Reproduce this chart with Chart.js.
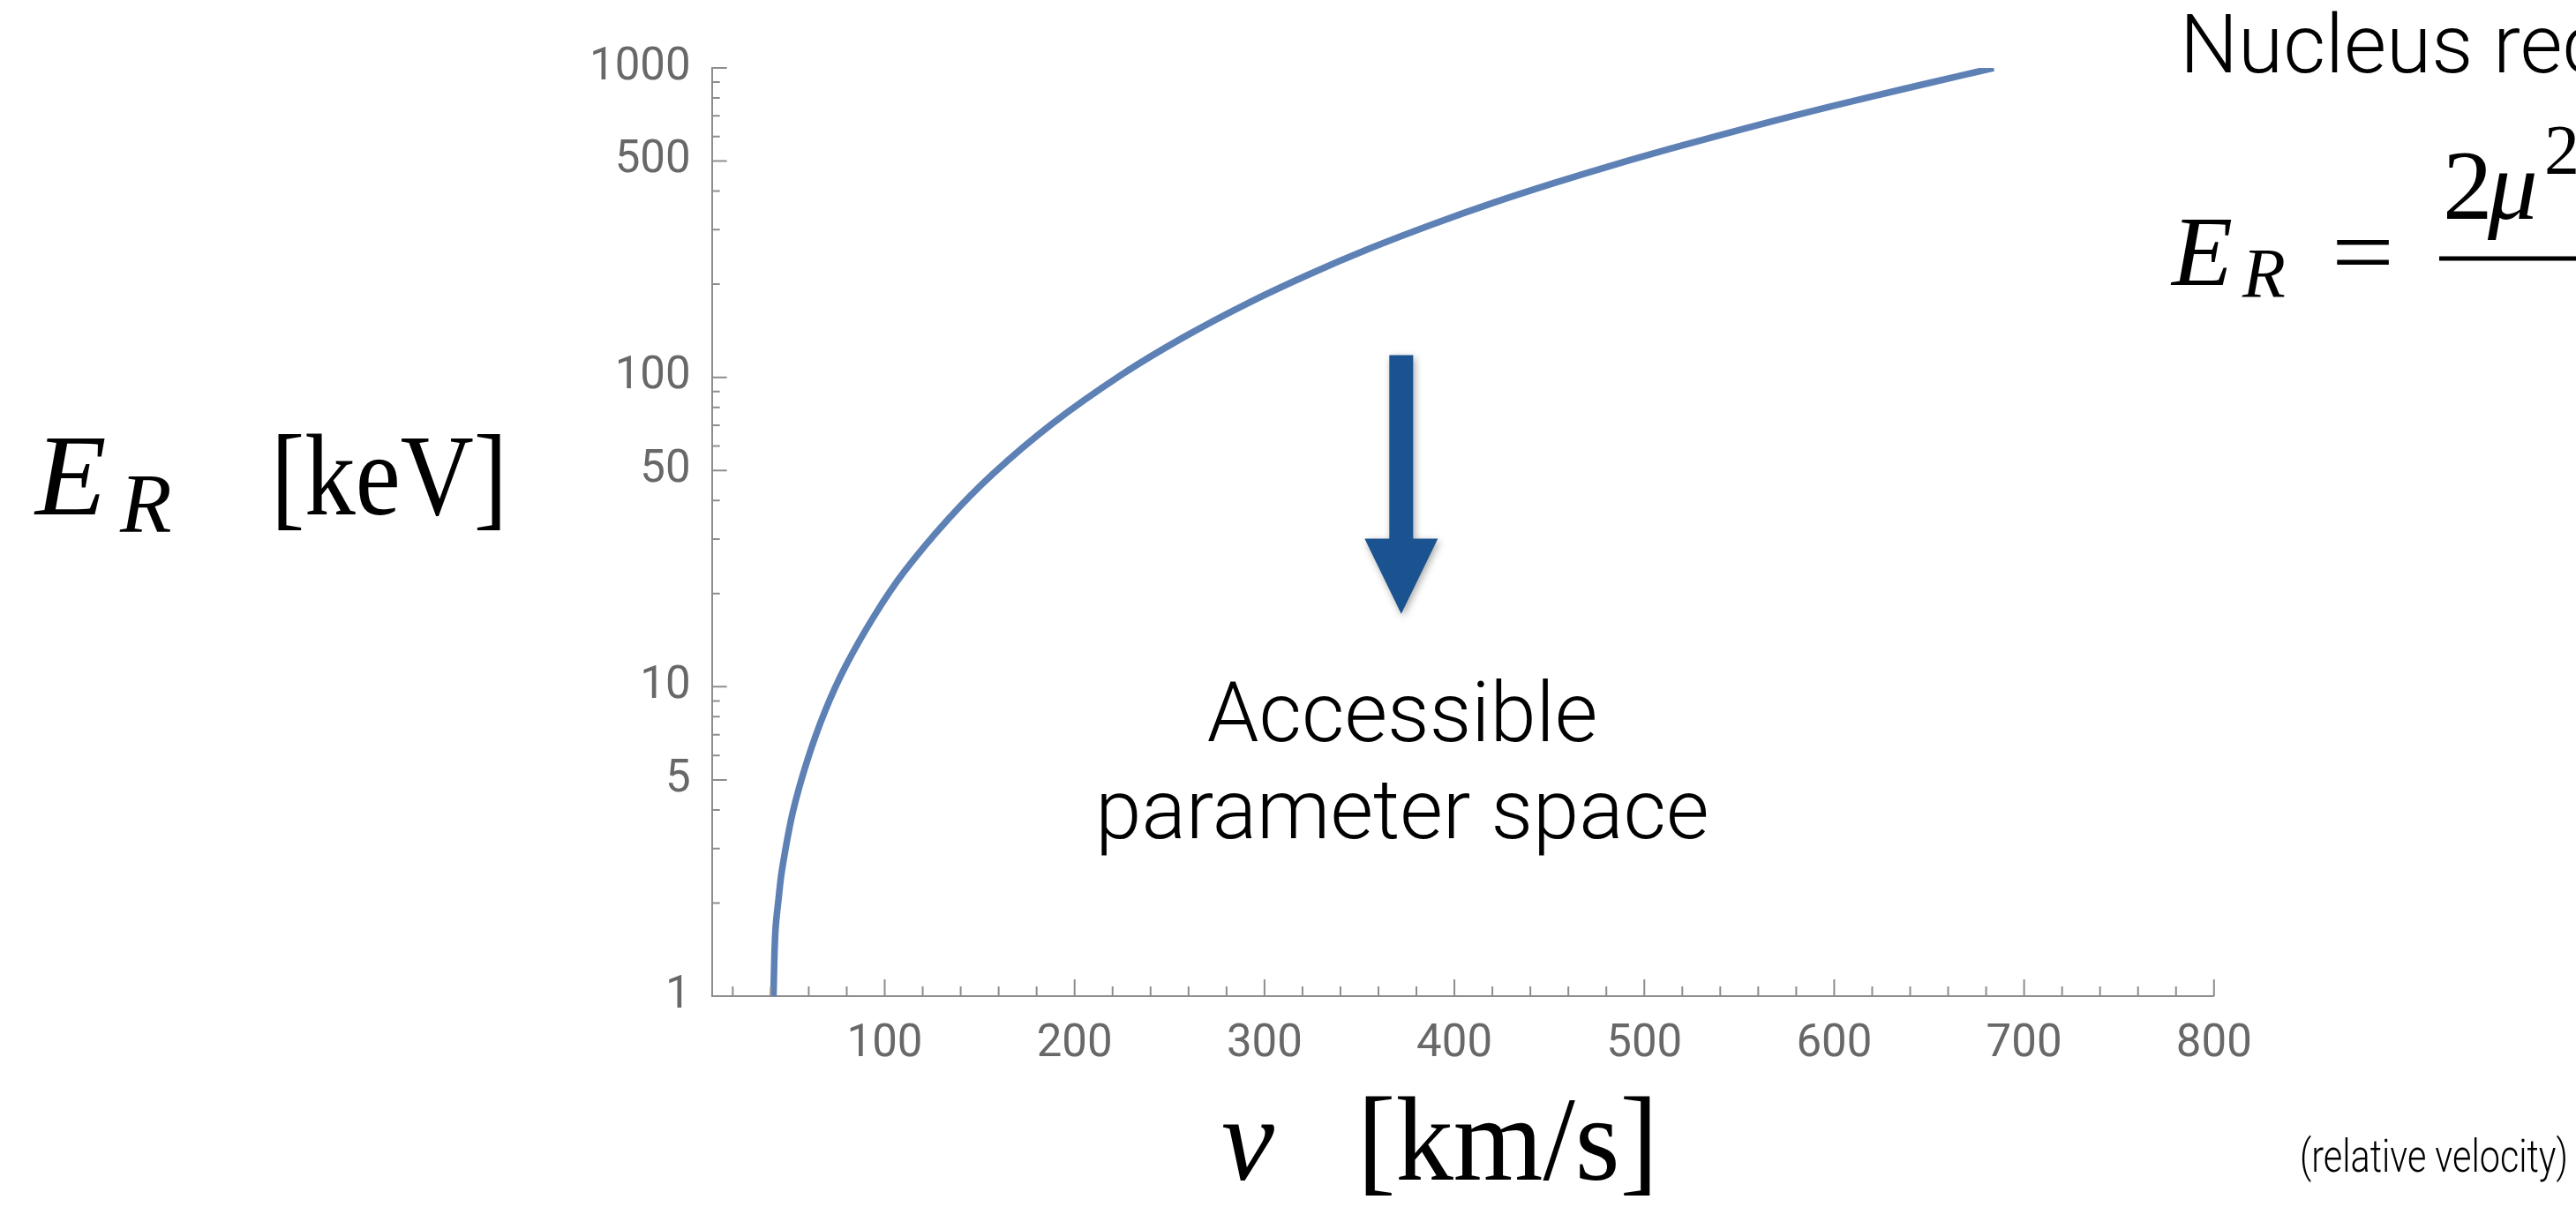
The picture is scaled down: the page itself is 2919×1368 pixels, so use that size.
<!DOCTYPE html>
<html>
<head>
<meta charset="utf-8">
<script src="https://cdn.jsdelivr.net/npm/chart.js@4.4.1/dist/chart.umd.min.js"></script>
<style>
  html, body { margin: 0; padding: 0; background: #ffffff; overflow: hidden; width: 2919px; height: 1368px; }
  #wrap { position: relative; width: 2919px; height: 1368px; overflow: hidden; }
  #c { position: absolute; left: 0; top: 0; }
  #ann { position: absolute; left: 0; top: 0; overflow: hidden; }
  .sans { font-family: Roboto, "Liberation Sans", Arial, sans-serif; font-weight: 300; }
  .serif { font-family: "Liberation Serif", "DejaVu Serif", serif; }
</style>
</head>
<body>
<div id="wrap">
  <canvas id="c" width="2919" height="1368"></canvas>
  <svg id="ann" width="2919" height="1368" xmlns="http://www.w3.org/2000/svg">
    <!-- y axis title -->
    <text class="serif" fill="#000">
      <tspan x="40" y="583" font-size="132" font-style="italic">E</tspan>
      <tspan x="136" y="603" font-size="96" font-style="italic">R</tspan>
      <tspan x="307" y="583" font-size="132" textLength="268" lengthAdjust="spacingAndGlyphs">[keV]</tspan>
    </text>
    <!-- x axis title -->
    <text class="serif" fill="#000">
      <tspan x="1384" y="1337" font-size="135" font-style="italic">v</tspan>
      <tspan x="1538" y="1337" font-size="135" textLength="341" lengthAdjust="spacingAndGlyphs">[km/s]</tspan>
    </text>
    <text class="sans" x="2606" y="1328" font-size="52" fill="#000" textLength="304" lengthAdjust="spacingAndGlyphs">(relative velocity)</text>
    <!-- accessible region annotation -->
    <text class="sans" x="1589" y="840" font-size="94" fill="#000" text-anchor="middle">Accessible</text>
    <text class="sans" x="1589" y="950" font-size="94" fill="#000" text-anchor="middle">parameter space</text>
    <!-- top right -->
    <text class="sans" x="2470" y="82" font-size="93" fill="#000">Nucleus recoil energy</text>
    <text class="serif" fill="#000">
      <tspan x="2461" y="323" font-size="113" font-style="italic">E</tspan>
      <tspan x="2541" y="337" font-size="80" font-style="italic">R</tspan>
      <tspan x="2642" y="323" font-size="113" textLength="71" lengthAdjust="spacingAndGlyphs">=</tspan>
      <tspan x="2768" y="248" font-size="113">2</tspan>
      <tspan x="2819" y="248" font-size="113" font-style="italic">μ</tspan>
      <tspan x="2883" y="197" font-size="80">2</tspan>
      <tspan x="2930" y="248" font-size="113" font-style="italic">v</tspan>
    </text>
    <line x1="2764" y1="293" x2="2919" y2="293" stroke="#000" stroke-width="5"/>
  </svg>
</div>
<script>
// ---- data ----
const velocity = [41.4, 42.4, 44.2, 46.0, 51.5, 59.2, 68.5, 79.4, 94.9, 110.4, 133.6, 156.9, 187.9, 225.3, 257.9, 290.6, 323.2, 355.8, 388.5, 421.1, 453.7, 486.4, 519.0, 551.7, 584.3, 617.0, 649.6, 684.0];
const recoilEnergy = [1.0, 1.61, 2.09, 2.58, 3.91, 5.77, 8.32, 11.65, 17.1, 23.6, 34.9, 48.7, 70.6, 102.5, 135.3, 172.9, 214.8, 261.4, 312.3, 367.6, 426.8, 491.0, 559.6, 634.3, 714.4, 800.7, 892.9, 1000];

const yMajorTicks = [1, 5, 10, 50, 100, 500, 1000];
const yMinorTicks = [2, 3, 4, 6, 7, 8, 9, 20, 30, 40, 60, 70, 80, 90, 200, 300, 400, 600, 700, 800, 900];
const xMajorTicks = [100, 200, 300, 400, 500, 600, 700, 800];
const xMinorTicks = [20, 40, 60, 80, 120, 140, 160, 180, 220, 240, 260, 280, 320, 340, 360, 380, 420, 440, 460, 480, 520, 540, 560, 580, 620, 640, 660, 680, 720, 740, 760, 780];

const xRange = [9, 800];
const yRange = [1, 1000];

// arrow annotation in data units: velocity, top energy, head base energy, tip energy
const arrowV = 372;
const arrowEnergies = [118, 30.1, 17.2];

// ---- styles ----
const AXIS_COLOR = '#8d8d8d';
const LABEL_COLOR = '#686868';
const CURVE_COLOR = '#5E81B5';
const ARROW_COLOR = '#1B5290';
const TICK_FONT = { family: 'Roboto, "Liberation Sans", Arial, sans-serif', size: 51, weight: 400 };

const points = velocity.map((v, i) => ({ x: v, y: recoilEnergy[i] }));

const tickMarks = {
  id: 'tickMarks',
  afterDraw(chart) {
    const { ctx, chartArea: a, scales: { x, y } } = chart;
    ctx.save();
    ctx.strokeStyle = AXIS_COLOR;
    ctx.lineWidth = 2;
    ctx.beginPath();
    yMajorTicks.forEach(v => { const p = y.getPixelForValue(v); ctx.moveTo(a.left, p); ctx.lineTo(a.left + 17, p); });
    yMinorTicks.forEach(v => { const p = y.getPixelForValue(v); ctx.moveTo(a.left, p); ctx.lineTo(a.left + 9, p); });
    xMajorTicks.forEach(v => { const p = x.getPixelForValue(v); ctx.moveTo(p, a.bottom); ctx.lineTo(p, a.bottom - 19); });
    xMinorTicks.forEach(v => { const p = x.getPixelForValue(v); ctx.moveTo(p, a.bottom); ctx.lineTo(p, a.bottom - 11); });
    ctx.stroke();
    ctx.restore();
  }
};

const arrowPlugin = {
  id: 'arrowPlugin',
  afterDatasetsDraw(chart) {
    const { ctx, scales: { x, y } } = chart;
    const cx = x.getPixelForValue(arrowV);
    const yTop = y.getPixelForValue(arrowEnergies[0]);
    const yBase = y.getPixelForValue(arrowEnergies[1]);
    const yTip = y.getPixelForValue(arrowEnergies[2]);
    const sw = 13.5, hw = 41.5;
    ctx.save();
    ctx.shadowColor = 'rgba(0,0,0,0.35)';
    ctx.shadowBlur = 8;
    ctx.shadowOffsetX = 2;
    ctx.shadowOffsetY = 3;
    ctx.fillStyle = ARROW_COLOR;
    ctx.beginPath();
    ctx.moveTo(cx - sw, yTop);
    ctx.lineTo(cx + sw, yTop);
    ctx.lineTo(cx + sw, yBase);
    ctx.lineTo(cx + hw, yBase);
    ctx.lineTo(cx, yTip);
    ctx.lineTo(cx - hw, yBase);
    ctx.lineTo(cx - sw, yBase);
    ctx.closePath();
    ctx.fill();
    ctx.restore();
  }
};

new Chart(document.getElementById('c'), {
  type: 'line',
  data: {
    datasets: [{
      data: points,
      borderColor: CURVE_COLOR,
      borderWidth: 7.5,
      borderCapStyle: 'butt',
      pointRadius: 0,
      fill: false,
      tension: 0.35
    }]
  },
  options: {
    responsive: false,
    animation: false,
    devicePixelRatio: 1,
    layout: { padding: { left: 0, top: 77, right: 410.2, bottom: 0 } },
    plugins: { legend: { display: false }, tooltip: { enabled: false } },
    scales: {
      x: {
        type: 'linear',
        min: xRange[0],
        max: xRange[1],
        grid: { display: false },
        border: { display: true, color: AXIS_COLOR, width: 2 },
        afterBuildTicks: s => { s.ticks = xMajorTicks.map(v => ({ value: v })); },
        afterFit: s => { s.height = 239; },
        ticks: {
          autoSkip: false, maxRotation: 0, minRotation: 0,
          padding: 17, color: LABEL_COLOR, font: TICK_FONT,
          callback: v => String(v)
        }
      },
      y: {
        type: 'logarithmic',
        min: yRange[0],
        max: yRange[1],
        grid: { display: false },
        border: { display: true, color: AXIS_COLOR, width: 2 },
        afterBuildTicks: s => { s.ticks = yMajorTicks.map(v => ({ value: v })); },
        afterFit: s => { s.width = 806.7; },
        ticks: {
          autoSkip: false, padding: 16, color: LABEL_COLOR, font: TICK_FONT,
          callback: v => String(v)
        }
      }
    }
  },
  plugins: [tickMarks, arrowPlugin]
});
</script>
</body>
</html>
